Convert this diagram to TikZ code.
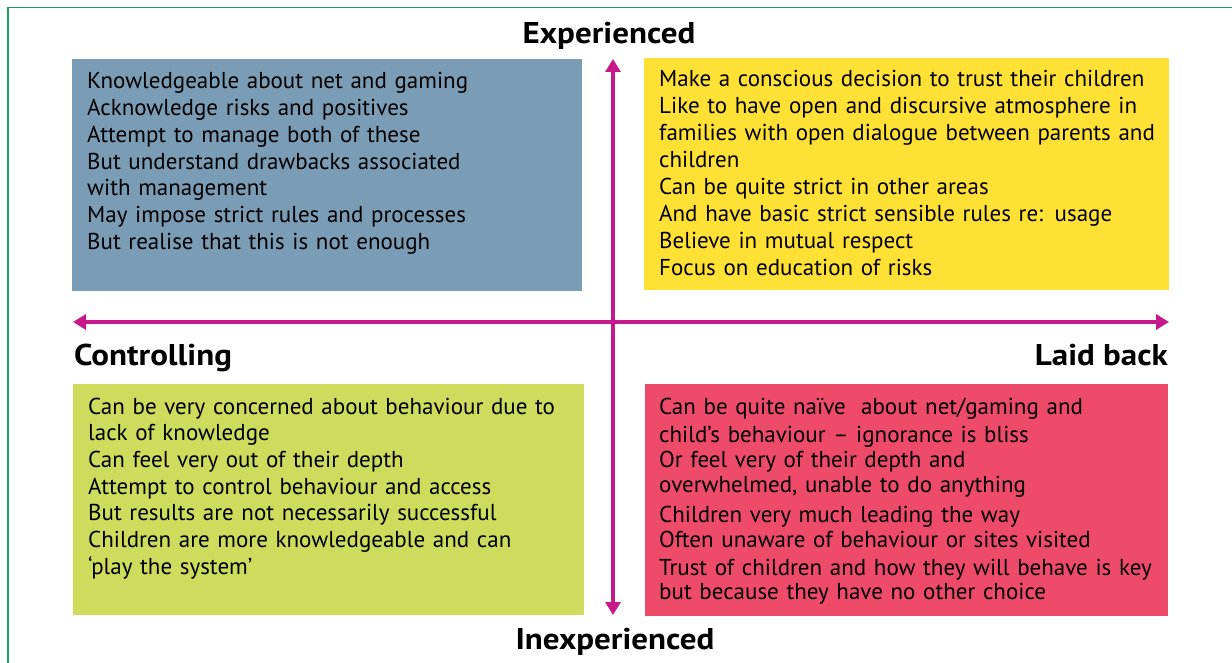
\documentclass[tikz,border=0pt]{standalone}
\usepackage{fontspec}
\setmainfont{PT Sans}
\newfontfamily\lblfont[FakeStretch=1.1]{PT Sans}
\usetikzlibrary{arrows.meta}
\definecolor{qblue}{HTML}{7A9DB5}
\definecolor{qyellow}{HTML}{FFE135}
\definecolor{qlime}{HTML}{CDDC5C}
\definecolor{qpink}{HTML}{EE4A69}
\definecolor{qaxis}{HTML}{C8198C}
\definecolor{qframe}{HTML}{1E9E5E}
\begin{document}
\begin{tikzpicture}[x=1pt,y=-1pt,
  quad/.style={inner sep=0pt, anchor=north west},
  body/.style={inner sep=0pt, anchor=base west, text width=530pt, align=left,
    font=\fontsize{23}{26.7}\selectfont, text=black},
  axislabel/.style={inner sep=0pt, font=\lblfont\fontsize{30}{34}\selectfont\bfseries},
  axis/.style={draw=qaxis, line width=4.5pt, {Triangle[length=13pt,width=15pt]}-{Triangle[length=13pt,width=15pt]}}]
\useasboundingbox (0,0) rectangle (1232,663);
\fill[white] (0,0) rectangle (1232,663);
\draw[qframe, line width=1.2pt] (1232,7.5) -- (8,7.5) -- (8,663);
% quadrant boxes
\node[quad, fill=qblue, minimum width=510pt, minimum height=232pt] (bq) at (72,59) {};
\node[quad, fill=qyellow, minimum width=525pt, minimum height=232pt] (yq) at (644,58) {};
\node[quad, fill=qlime, minimum width=511pt, minimum height=231pt] (lq) at (73,384) {};
\node[quad, fill=qpink, minimum width=523pt, minimum height=232pt] (pq) at (645,384) {};
% texts
\node[body] (bt) at (87,89) {Knowledgeable about net and gaming\\
Acknowledge risks and positives\\
Attempt to manage both of these\\
But understand drawbacks associated\\
with management\\
May impose strict rules and processes\\
But realise that this is not enough};
\node[body, font=\fontsize{23}{27}\selectfont] (yt) at (659,87) {Make a conscious decision to trust their children\\
Like to have open and discursive atmosphere in\\
families with open dialogue between parents and\\
children\\
Can be quite strict in other areas\\
And have basic strict sensible rules re: usage\\
Believe in mutual respect\\
Focus on education of risks};
\node[body] (lt) at (88,414) {Can be very concerned about behaviour due to\\
lack of knowledge\\
Can feel very out of their depth\\
Attempt to control behaviour and access\\
But results are not necessarily successful\\
Children are more knowledgeable and can\\
‘play the system’};
\node[body, font=\fontsize{23}{25}\selectfont] (pt) at (659,414) {Can be quite naïve\ \ about net/gaming and\\[3pt]
child’s behaviour – ignorance is bliss\\
Or feel very of their depth and\\
overwhelmed, unable to do anything\\[5pt]
Children very much leading the way\\
Often unaware of behaviour or sites visited\\[3pt]
Trust of children and how they will behave is key\\[-1pt]
but because they have no other choice};
% axes
\coordinate (top) at (613,59);
\coordinate (bot) at (613,615);
\coordinate (lft) at (73,322);
\coordinate (rgt) at (1169,322);
\draw[axis] (lft) -- (rgt);
\draw[axis] (top) -- (bot);
% axis labels
\node[axislabel, anchor=base] (exp) at (609,44) {Experienced};
\node[axislabel, anchor=base] (inexp) at (615,649) {Inexperienced};
\node[axislabel, anchor=base west] (ctrl) at (74,365) {Controlling};
\node[axislabel, anchor=base east] (laid) at (1168,365) {Laid back};
\end{tikzpicture}
\end{document}
